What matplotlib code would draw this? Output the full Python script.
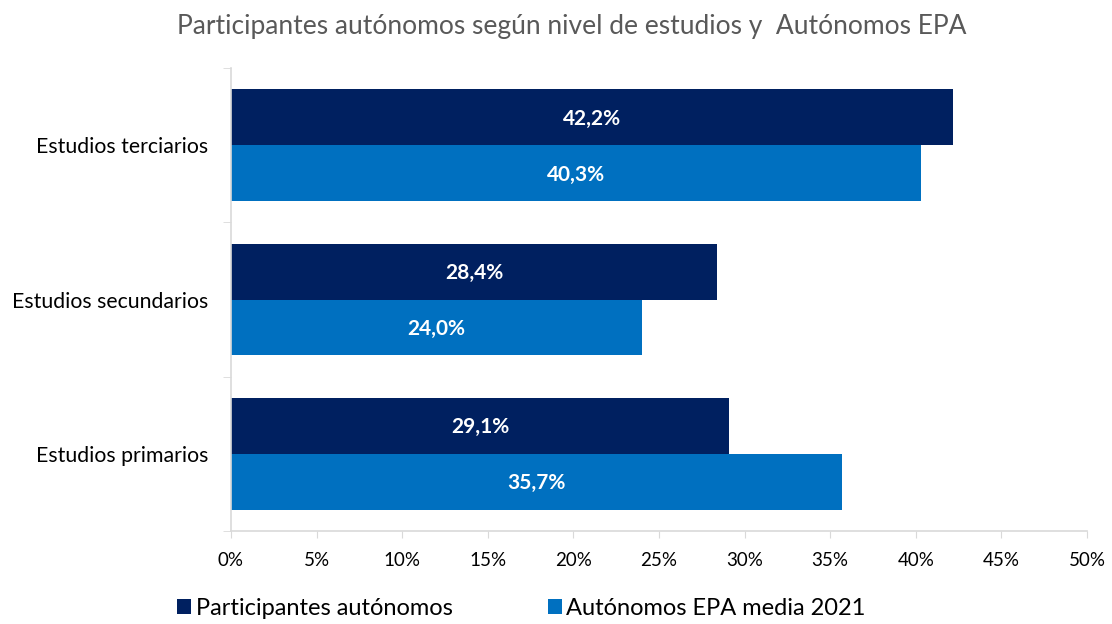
import numpy as np
import matplotlib
matplotlib.use("Agg")
import matplotlib.pyplot as plt

# --------------------------------------------------
# Data
# --------------------------------------------------

categories = ["Estudios primarios", "Estudios secundarios", "Estudios terciarios"]
participantes = [29.1, 28.4, 42.2]
epa_2021 = [35.7, 24.0, 40.3]
series_names = ["Participantes autónomos", "Autónomos EPA media 2021"]
xticks = [0, 5, 10, 15, 20, 25, 30, 35, 40, 45, 50]

dark_blue = "#002060"
light_blue = "#0070C0"
axis_grey = "#D9D9D9"

plt.rcParams["font.family"] = ["Lato", "DejaVu Sans"]

# --------------------------------------------------
# Figure
# --------------------------------------------------

fig = plt.figure(figsize=(11.12, 6.24), dpi=100)
ax = fig.add_axes([0.2077, 0.149, 0.7698, 0.742])

y = np.arange(len(categories))
h = 0.362

b1 = ax.barh(y + h / 2, participantes, height=h, color=dark_blue, label=series_names[0])
b2 = ax.barh(y - h / 2, epa_2021, height=h, color=light_blue, label=series_names[1])

for bars, vals in [(b1, participantes), (b2, epa_2021)]:
    for bar, v in zip(bars, vals):
        ax.text(bar.get_width() / 2, bar.get_y() + bar.get_height() / 2 - 0.01,
                f"{v:.1f}%".replace(".", ","), ha="center", va="center",
                color="white", fontsize=15, fontweight="bold")

ax.set_xlim(0, 50)
ax.set_ylim(-0.5, 2.5)
ax.set_xticks(xticks)
ax.set_xticklabels([f"{t}%" for t in xticks], fontsize=13.5)

ax.set_yticks(y)
ax.set_yticklabels(categories, fontsize=15.3)
ax.tick_params(axis="y", length=0, pad=16.5)
ax.set_yticks([-0.5, 0.5, 1.5, 2.5], minor=True)
ax.tick_params(axis="y", which="minor", length=6, color=axis_grey)
ax.tick_params(axis="x", length=5, color=axis_grey, pad=10)

for side in ["top", "right"]:
    ax.spines[side].set_visible(False)
for side in ["left", "bottom"]:
    ax.spines[side].set_color(axis_grey)
    ax.spines[side].set_linewidth(1.2)

fig.text(0.514, 0.958, "Participantes autónomos según nivel de estudios y  Autónomos EPA",
         ha="center", va="center", fontsize=19, color="#595959")

fig.legend(handles=[b1, b2], loc="center", bbox_to_anchor=(0.469, 0.025), ncol=2,
           frameon=False, fontsize=17, handlelength=0.6, handleheight=0.6,
           handletextpad=0.2, columnspacing=4.0)

fig.savefig("out.png", dpi=100)
